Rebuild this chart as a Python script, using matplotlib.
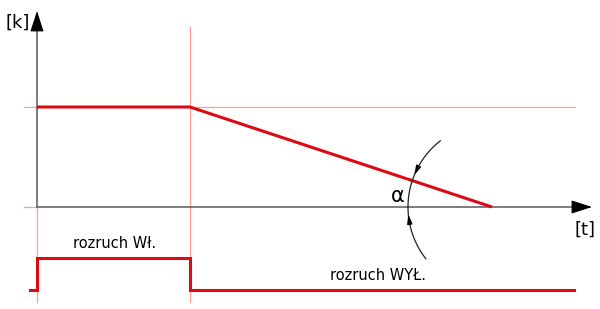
import numpy as np
import matplotlib.pyplot as plt

# diagram coordinates (pixel-like units, y grows downward)
t_axis = 37          # time origin / vertical axis
t_switch = 190       # switching moment
t_zero = 492         # speed reaches zero
k_high = 107         # level of the top curve
k_zero = 207         # time axis
sig_low = 290        # control signal low
sig_high = 258       # control signal high

curve_t = [t_axis, t_switch, t_zero]
curve_k = [k_high, k_high, k_zero]

sig_t = [30, t_axis, t_axis, t_switch, t_switch, 574]
sig_v = [sig_low, sig_low, sig_high, sig_high, sig_low, sig_low]

red = '#dc0a14'
pink = '#ff9a9a'
grey = '#666666'

fig = plt.figure(figsize=(6, 3.09), dpi=100)
ax = fig.add_axes([0, 0, 1, 1])
ax.set_xlim(0, 600)
ax.set_ylim(309, 0)
ax.axis('off')

# thin guide lines
ax.plot([24, 575], [k_high, k_high], color=pink, lw=0.9)
ax.plot([t_switch, t_switch], [27, 302], color=pink, lw=0.9)
ax.plot([t_axis, t_axis], [k_zero, 302], color=pink, lw=0.9)
ax.plot([24, t_axis], [k_zero, k_zero], color=pink, lw=0.9)

# axes with arrow heads
head = dict(arrowstyle='-|>,head_length=1.3,head_width=0.42',
            color='black', lw=0.8, shrinkA=0, shrinkB=0)
ax.plot([t_axis, t_axis], [24, k_zero], color=grey, lw=1.2)
ax.annotate('', xy=(t_axis, 11), xytext=(t_axis, 26), arrowprops=head)
ax.plot([t_axis, 580], [k_zero, k_zero], color=grey, lw=1.2)
ax.annotate('', xy=(592, k_zero), xytext=(578, k_zero), arrowprops=head)

# red curves
ax.plot(curve_t, curve_k, color=red, lw=2.2, solid_capstyle='butt')
ax.plot(sig_t, sig_v, color=red, lw=2.2, solid_joinstyle='miter')

# angle arc with arrows
r = 84
th = np.radians(np.linspace(128, 218, 100))
ax.plot(t_zero + r * np.cos(th), k_zero - r * np.sin(th), color='#222222', lw=0.9)
slope = np.degrees(np.arctan((k_zero - k_high) / (t_zero - t_switch)))
small = dict(arrowstyle='-|>,head_length=0.55,head_width=0.15',
             color='black', lw=0.9, shrinkA=0, shrinkB=0)
a1 = np.radians(180 - slope - 4)
a1b = np.radians(180 - slope - 10)
ax.annotate('', xy=(t_zero + r * np.cos(a1), k_zero - r * np.sin(a1)),
            xytext=(t_zero + r * np.cos(a1b), k_zero - r * np.sin(a1b)), arrowprops=small)
a2 = np.radians(185)
a2b = np.radians(192)
ax.annotate('', xy=(t_zero + r * np.cos(a2), k_zero - r * np.sin(a2)),
            xytext=(t_zero + r * np.cos(a2b), k_zero - r * np.sin(a2b)), arrowprops=small)

# texts
ax.text(18, 23, '[k]', fontsize=13, ha='center', va='center')
ax.text(585, 230, '[t]', fontsize=13, ha='center', va='center')
ax.text(398, 196, 'α', fontsize=15, ha='center', va='center')
ax.text(115, 243, 'rozruch Wł.', fontsize=10.5, ha='center', va='center')
ax.text(378, 276, 'rozruch WYŁ.', fontsize=10.5, ha='center', va='center')

fig.savefig('out.png', dpi=100)
